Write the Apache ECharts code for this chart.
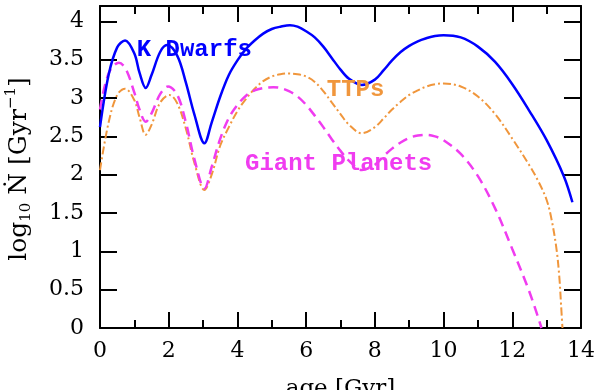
<!DOCTYPE html>
<html>
<head>
<meta charset="utf-8">
<script src="https://cdn.jsdelivr.net/npm/echarts@6/dist/echarts.min.js"></script>
<style>
  html, body { margin: 0; padding: 0; background: #fff; }
  #chart { width: 598px; height: 390px; }
</style>
</head>
<body>
<div id="chart"></div>
<script>
// K dwarfs (solid blue)
const kAge  = [0, 0.25, 0.5, 0.73, 1, 1.15, 1.33, 1.5, 1.75, 1.95, 2.25, 2.5, 2.75, 3.04, 3.25, 3.5, 3.75, 4, 4.25, 4.5, 4.75,
               5, 5.25, 5.53, 5.75, 6, 6.25, 6.5, 6.75, 7, 7.25, 7.62, 8, 8.25, 8.5, 8.75, 9, 9.25, 9.5, 9.75,
               10, 10.5, 11, 11.5, 12, 12.5, 13, 13.5, 13.75];
const kRate = [2.62, 3.3, 3.66, 3.75, 3.58, 3.33, 3.13, 3.3, 3.6, 3.69, 3.55, 3.2, 2.78, 2.41, 2.68, 3.02, 3.3, 3.49, 3.64, 3.75, 3.84,
               3.9, 3.93, 3.95, 3.93, 3.87, 3.79, 3.67, 3.52, 3.37, 3.25, 3.17, 3.24, 3.36, 3.49, 3.6, 3.68, 3.74, 3.78, 3.81,
               3.82, 3.79, 3.67, 3.47, 3.18, 2.83, 2.45, 1.98, 1.64];

// TTPs (orange dash-dot)
const ttpAge  = [0, 0.25, 0.5, 0.73, 1, 1.15, 1.33, 1.5, 1.75, 2.02, 2.25, 2.5, 2.75, 3.04, 3.25, 3.5, 3.75, 4, 4.25, 4.5, 4.75,
                 5, 5.25, 5.48, 5.75, 6, 6.25, 6.5, 6.75, 7, 7.25, 7.62, 8, 8.25, 8.5, 8.75, 9, 9.25, 9.5, 9.75,
                 10, 10.5, 11, 11.5, 12, 12.5, 12.75, 13, 13.15, 13.29, 13.37, 13.42, 13.46];
const ttpRate = [2.06, 2.68, 3.04, 3.12, 2.97, 2.75, 2.52, 2.65, 2.94, 3.04, 2.93, 2.6, 2.15, 1.8, 2.0, 2.38, 2.62, 2.83, 2.99, 3.12, 3.22,
                 3.28, 3.31, 3.32, 3.31, 3.28, 3.21, 3.09, 2.94, 2.79, 2.65, 2.54, 2.62, 2.73, 2.85, 2.95, 3.04, 3.1, 3.15, 3.18,
                 3.19, 3.15, 3.02, 2.79, 2.47, 2.12, 1.92, 1.67, 1.4, 1.02, 0.66, 0.3, 0];

// Giant planets (magenta dashed)
const gpAge  = [0, 0.25, 0.55, 0.75, 1, 1.15, 1.33, 1.5, 1.75, 1.98, 2.25, 2.5, 2.75, 3.04, 3.25, 3.5, 3.75, 4, 4.25, 4.5, 4.75,
                5.05, 5.25, 5.5, 5.75, 6, 6.25, 6.5, 6.75, 7, 7.25, 7.62, 8, 8.25, 8.5, 8.75, 9, 9.25, 9.5, 9.75,
                10, 10.5, 11, 11.5, 12, 12.5, 12.85];
const gpRate = [2.85, 3.32, 3.46, 3.38, 3.07, 2.85, 2.69, 2.8, 3.05, 3.15, 3.04, 2.68, 2.2, 1.82, 2.1, 2.47, 2.74, 2.91, 3.03, 3.1, 3.13,
                3.14, 3.13, 3.09, 3.02, 2.91, 2.77, 2.62, 2.46, 2.31, 2.18, 2.06, 2.13, 2.24, 2.34, 2.42, 2.48, 2.51, 2.52, 2.5,
                2.45, 2.27, 1.98, 1.56, 1.03, 0.47, 0];

const xTicks = [0, 2, 4, 6, 8, 10, 12, 14];
const yTicks = [0, 0.5, 1, 1.5, 2, 2.5, 3, 3.5, 4];

const BLUE = '#0000ff', ORANGE = '#f0963c', MAGENTA = '#f03cf0';

function pairs(xs, ys) { return xs.map((x, i) => [x, ys[i]]); }

function xAxisOf(pos, showLabels) {
  return {
    type: 'value', position: pos, min: xTicks[0], max: xTicks[xTicks.length - 1], interval: 2,
    axisLine: { show: true, onZero: false, lineStyle: { color: '#000', width: 2 } },
    axisTick: { show: true, inside: true, length: 16, lineStyle: { color: '#000', width: 2 } },
    minorTick: { show: true, splitNumber: 2, length: 8, lineStyle: { color: '#000', width: 2 } },
    axisLabel: { show: showLabels, margin: 12, fontFamily: 'DejaVu Serif', fontSize: 22, color: '#000' },
    splitLine: { show: false }
  };
}
function yAxisOf(pos, showLabels) {
  return {
    type: 'value', position: pos, min: 0, max: 4.2, interval: 0.5,
    axisLine: { show: true, onZero: false, lineStyle: { color: '#000', width: 2 } },
    axisTick: { show: true, inside: true, length: 17, lineStyle: { color: '#000', width: 2 } },
    axisLabel: { show: showLabels, margin: 16, showMaxLabel: false, fontFamily: 'DejaVu Serif', fontSize: 22, color: '#000',
      formatter: v => (yTicks.indexOf(v) >= 0 ? String(v) : '') },
    splitLine: { show: false }
  };
}

const chart = echarts.init(document.getElementById('chart'));

const xBottom = xAxisOf('bottom', true);
xBottom.name = 'age [Gyr]';
xBottom.nameLocation = 'middle';
xBottom.nameGap = 50;
xBottom.nameTextStyle = { fontFamily: 'DejaVu Serif', fontSize: 23, color: '#000' };

chart.setOption({
  animation: false,
  grid: { left: 100, right: 17, top: 6, bottom: 62, outerBoundsMode: 'none' },
  xAxis: [xBottom, xAxisOf('top', false)],
  yAxis: [yAxisOf('left', true), yAxisOf('right', false)],
  series: [
    { name: 'K Dwarfs', type: 'line', data: pairs(kAge, kRate), smooth: 0.35, showSymbol: false,
      lineStyle: { color: BLUE, width: 2.5, type: 'solid' }, z: 3 },
    { name: 'TTPs', type: 'line', data: pairs(ttpAge, ttpRate), smooth: 0.35, showSymbol: false,
      lineStyle: { color: ORANGE, width: 2, type: [8, 3, 2, 3] }, z: 2 },
    { name: 'Giant Planets', type: 'line', data: pairs(gpAge, gpRate), smooth: 0.35, showSymbol: false,
      lineStyle: { color: MAGENTA, width: 2.5, type: [10, 6] }, z: 2 }
  ]
});

// curve labels placed in data space
function label(text, at, color) {
  const p = chart.convertToPixel({ gridIndex: 0 }, at);
  return {
    type: 'text', left: p[0], top: p[1] - 13, z: 10,
    style: { text: text, fill: color, font: 'bold 24px "Liberation Mono"' }
  };
}

chart.setOption({
  graphic: [
    label('K Dwarfs', [1.07, 3.62], BLUE),
    label('TTPs', [6.6, 3.09], ORANGE),
    label('Giant Planets', [4.22, 2.13], MAGENTA),
    {
      type: 'text', x: 19, y: 169, rotation: Math.PI / 2, z: 10,
      style: {
        text: 'log{sub|10} Ṅ [Gyr{sup|−1}]',
        align: 'center', verticalAlign: 'middle',
        font: '25px "DejaVu Serif"', fill: '#000', lineHeight: 30,
        rich: {
          sub: { fontFamily: 'DejaVu Serif', fontSize: 15, lineHeight: 15, verticalAlign: 'bottom' },
          sup: { fontFamily: 'DejaVu Serif', fontSize: 15, lineHeight: 15, verticalAlign: 'top' }
        }
      }
    }
  ]
});
</script>
</body>
</html>
